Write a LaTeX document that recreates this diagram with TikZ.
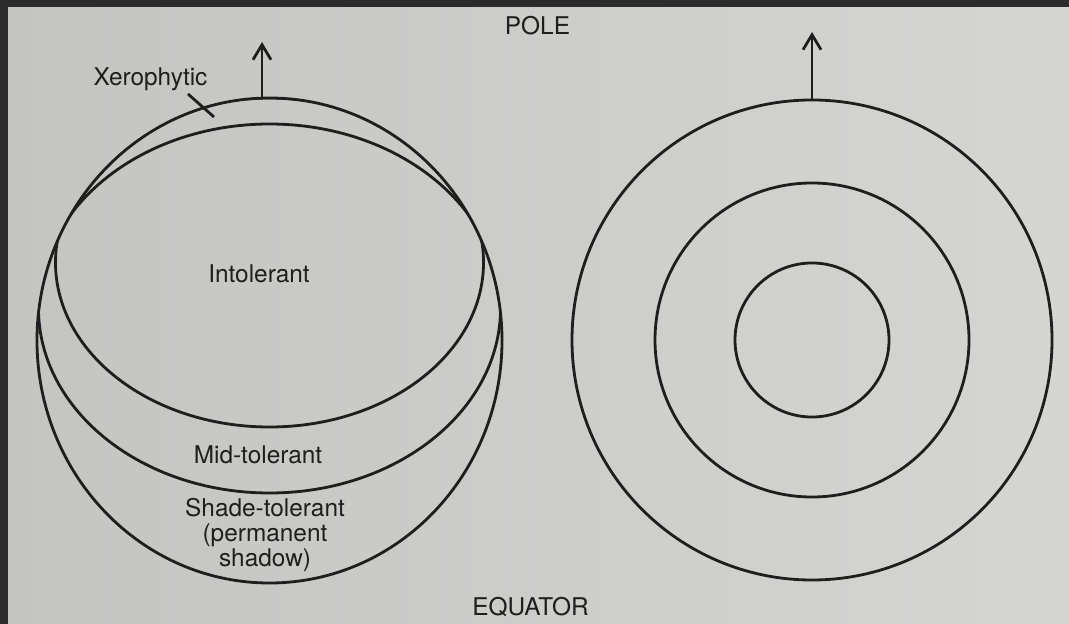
\documentclass[tikz,border=0pt]{standalone}
\usepackage{fontspec}
\setmainfont{TeX Gyre Heros}
\usetikzlibrary{positioning}
\usetikzlibrary{arrows.meta}
\definecolor{pageL}{RGB}{196,197,194}
\definecolor{pageR}{RGB}{213,214,210}
\definecolor{frame}{RGB}{43,43,43}
\definecolor{ink}{RGB}{30,30,30}

\begin{document}
\begin{tikzpicture}[x=0.5pt, y=-0.5pt,
    line/.style={draw=ink, line width=1.4pt},
    pole/.style={line, -{Straight Barb[length=7.5pt, width=9pt]}},
    label/.style={text=ink, inner sep=0pt, font=\fontsize{12.2}{12.5}\selectfont},
    bigtext/.style={label, align=center}]
\useasboundingbox (0,0) rectangle (1069,624);
% page and photo edge
\shade[left color=pageL, right color=pageR] (0,0) rectangle (1069,624);
\fill[frame] (0,0) rectangle (1069,7);
\fill[frame] (0,0) rectangle (8,624);

% Left globe: zones
\begin{scope}
    \clip (269.5,340.5) ellipse [x radius=232.5, y radius=242.5];
    \draw[line] (269.5,262.5) ellipse [x radius=214, y radius=164.5];
    \draw[line] (269.5,308.5) ellipse [x radius=231, y radius=184.5];
\end{scope}
\draw[line] (269.5,340.5) ellipse [x radius=232.5, y radius=242.5];

% Right globe: concentric rings
\foreach \r in {240,157,77} {
    \draw[line] (812,340) circle [radius=\r];
}

% Axes to the pole
\coordinate (lbase) at (262,98);
\coordinate (ltip) at (262,42);
\coordinate (rbase) at (812,100);
\coordinate (rtip) at (812,32);
\draw[pole] (lbase) -- (ltip);
\draw[pole] (rbase) -- (rtip);

% Labels
\node[label, anchor=base] (pole) at (537.5,35) {POLE};
\node[label, anchor=base] (equator) at (530.5,615) {EQUATOR};
\node[label, anchor=base] (xero) at (150.5,86) {Xerophytic};
\node[label, anchor=base] (intol) at (259,283) {Intolerant};
\node[label, anchor=base] (midtol) at (258,463) {Mid-tolerant};
\node[bigtext] (shadetol) at (265,535) {Shade-tolerant\\(permanent\\shadow)};

\coordinate (xtickA) at (188,94);
\coordinate (xtickB) at (214,117);
\draw[line] (xtickA) -- (xtickB);
\end{tikzpicture}
\end{document}
